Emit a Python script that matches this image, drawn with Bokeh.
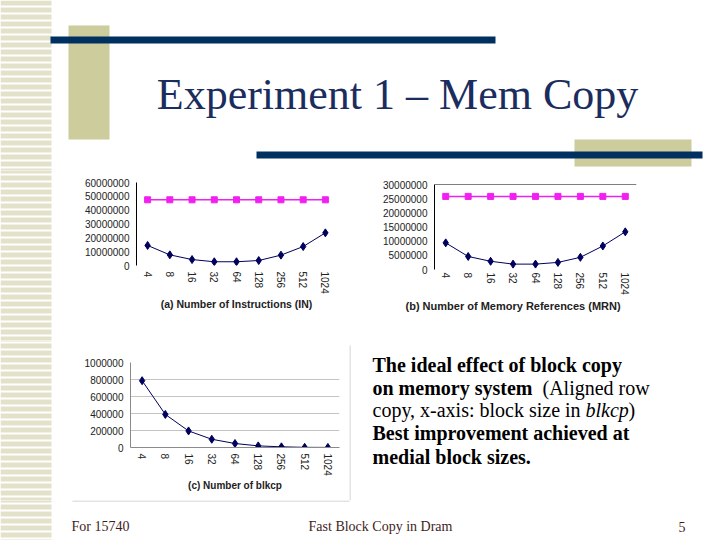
from bokeh.plotting import figure
from bokeh.layouts import column, row
from bokeh.models import Range1d, FactorRange, FixedTicker, BasicTickFormatter, Span, Title
from bokeh.embed import file_html
from bokeh.resources import INLINE
from bokeh.core.properties import value

# ---------------- data ----------------
block_sizes = ["4", "8", "16", "32", "64", "128", "256", "512", "1024"]

# (a) Number of Instructions (IN)
in_with_blkcp = [14500000, 7700000, 4300000, 2700000, 2700000, 3600000, 7500000, 13700000, 23600000]
in_without_blkcp = [47500000, 47500000, 47500000, 47500000, 47500000, 47500000, 47500000, 47500000, 47500000]
in_y_ticks = [0, 10000000, 20000000, 30000000, 40000000, 50000000, 60000000]

# (b) Number of Memory References (MRN)
mrn_with_blkcp = [9400000, 4600000, 2900000, 1900000, 1900000, 2500000, 4300000, 8300000, 13300000]
mrn_without_blkcp = [25800000, 25800000, 25800000, 25800000, 25800000, 25800000, 25800000, 25800000, 25800000]
mrn_y_ticks = [0, 5000000, 10000000, 15000000, 20000000, 25000000, 30000000]

# (c) Number of blkcp
blkcp_count = [786000, 389000, 195000, 97000, 47000, 19000, 8000, 2000, 1000]
blkcp_y_ticks = [0, 200000, 400000, 600000, 800000, 1000000]
blkcp_grid = [200000, 400000, 600000, 800000]

title_text = "Experiment 1 \u2013 Mem Copy"
label_a = "(a) Number of Instructions (IN)"
label_b = "(b) Number of Memory References (MRN)"
label_c = "(c) Number of blkcp"

# ---------------- styles ----------------
NAVY_BAR = "#00305f"
BEIGE = "#cccc9c"
STRIPE = "#e3e1ca"
TITLE_COL = "#1b2d5e"
FOOT_COL = "#3f1d1d"
PINK = "#f020f0"
NAVY = "#00005e"
SANS = "Liberation Sans"
SERIF = "Liberation Serif"


def deco(x0, x1, y0, y1):
    p = figure(width=x1 - x0, height=y1 - y0, x_range=Range1d(x0, x1), y_range=Range1d(y1, y0),
               x_axis_type=None, y_axis_type=None, toolbar_location=None, output_backend="svg",
               min_border=0, outline_line_color=None, frame_align=False,
               background_fill_color="white", border_fill_color="white")
    if x0 < 51:
        tops = list(range(0, 545, 7))
        p.quad(left=0, right=51, top=tops, bottom=[t + 5 for t in tops],
               fill_color=STRIPE, line_color=None)
    return p


def chart(w, h, l, r, t, b, ymax, yticks, xfs):
    p = figure(width=w, height=h, x_range=FactorRange(factors=block_sizes), y_range=Range1d(0, ymax),
               toolbar_location=None, output_backend="svg", frame_align=False,
               min_border_left=l, min_border_right=r, min_border_top=t, min_border_bottom=b,
               outline_line_color=None, background_fill_color="white", border_fill_color="white")
    p.xgrid.visible = False
    p.ygrid.visible = False
    p.xaxis.major_label_orientation = "vertical"
    p.xaxis.major_tick_line_color = None
    p.xaxis.minor_tick_line_color = None
    p.xaxis.major_tick_out = 0
    p.xaxis.major_tick_in = 0
    p.xaxis.major_label_text_font = SANS
    p.xaxis.major_label_text_font_size = xfs
    p.xaxis.major_label_text_color = "#222222"
    p.xaxis.major_label_standoff = 6
    p.xaxis.axis_label_standoff = 1
    p.xaxis.axis_label_text_font = SANS
    p.xaxis.axis_label_text_font_size = "10.5px"
    p.xaxis.axis_label_text_font_style = "bold"
    p.xaxis.axis_label_text_color = "#222222"
    p.yaxis.ticker = FixedTicker(ticks=yticks)
    p.yaxis.formatter = BasicTickFormatter(use_scientific=False)
    p.yaxis.major_tick_line_color = None
    p.yaxis.minor_tick_line_color = None
    p.yaxis.major_tick_out = 0
    p.yaxis.major_tick_in = 0
    p.yaxis.major_label_text_font = SANS
    p.yaxis.major_label_text_font_size = "10px"
    p.yaxis.major_label_text_color = "#222222"
    p.yaxis.major_label_standoff = 7
    return p


# ---------------- header ----------------
head = deco(0, 720, 0, 170)
head.quad(left=68, right=109, top=25, bottom=139, fill_color=BEIGE, line_color=None)
head.quad(left=574, right=691, top=139, bottom=166, fill_color=BEIGE, line_color=None)
head.quad(left=50, right=495, top=36, bottom=43, fill_color=NAVY_BAR, line_color=None)
head.quad(left=256, right=702, top=151, bottom=158, fill_color=NAVY_BAR, line_color=None)
head.text(x=[397], y=[94], text=[title_text], text_font=value(SERIF), text_font_size="44px",
          text_align="center", text_baseline="middle", text_color=TITLE_COL)

# ---------------- chart (a) ----------------
pa = chart(275, 170, 66, 9, 12, 75, 60000000, in_y_ticks, "10px")
pa.xaxis.axis_line_color = None
pa.yaxis.axis_line_color = "black"
pa.xaxis.axis_label = label_a
pa.line(block_sizes, in_without_blkcp, line_color=PINK, line_width=1.5)
pa.scatter(block_sizes, in_without_blkcp, marker="square", size=6, fill_color=PINK, line_color=PINK)
pa.line(block_sizes, in_with_blkcp, line_color=NAVY, line_width=1)
pa.scatter(block_sizes, in_with_blkcp, marker="diamond", size=8, fill_color=NAVY, line_color=NAVY)

# ---------------- chart (b) ----------------
pb = chart(375, 170, 89, 84, 14, 71, 30000000, mrn_y_ticks, "10px")
pb.xaxis.axis_line_color = None
pb.yaxis.axis_line_color = "black"
pb.xaxis.major_label_standoff = 3
pb.add_layout(Span(location=30000000, dimension="width", line_color="black", line_width=1))
pb.add_layout(Title(text=label_b, align="left", offset=-29, text_font=SANS, text_font_size="11px",
                    text_font_style="bold", text_color="#222222", standoff=0), "below")
pb.line(block_sizes, mrn_without_blkcp, line_color=PINK, line_width=1.5)
pb.scatter(block_sizes, mrn_without_blkcp, marker="square", size=6, fill_color=PINK, line_color=PINK)
pb.line(block_sizes, mrn_with_blkcp, line_color=NAVY, line_width=1)
pb.scatter(block_sizes, mrn_with_blkcp, marker="diamond", size=8, fill_color=NAVY, line_color=NAVY)

# ---------------- chart (c) ----------------
pc = chart(289, 160, 70, 10, 22, 53, 1000000, blkcp_y_ticks, "10px")
pc.xaxis.axis_line_color = "#8a8a8a"
pc.yaxis.axis_line_color = "#8a8a8a"
pc.ygrid.visible = True
pc.ygrid.ticker = FixedTicker(ticks=blkcp_grid)
pc.ygrid.grid_line_color = "#c4c4c4"
pc.xaxis.axis_label = label_c
pc.xaxis.axis_label_text_font_size = "10px"
pc.line(block_sizes, blkcp_count, line_color=NAVY, line_width=1)
pc.scatter(block_sizes, blkcp_count, marker="diamond", size=8, fill_color=NAVY, line_color=NAVY)

# ---------------- side tiles ----------------
left_b = deco(0, 70, 170, 340)
left_c = deco(0, 60, 340, 500)

txt = deco(349, 720, 340, 500)
txt.segment(x0=[349.5], y0=[345], x1=[349.5], y1=[500], line_color="#c8c8c8", line_width=1)
bold_lines = ["The ideal effect of block copy", "on memory system", "Best improvement achieved at",
              "medial block sizes."]
txt.text(x=[372, 372, 372, 372], y=[364, 387, 432, 456], text=bold_lines, text_font=value(SERIF),
         text_font_size="20px", text_font_style="bold", text_baseline="middle", text_color="black")
txt.text(x=[542, 372, 628], y=[387, 409, 409], text=["(Aligned row", "copy, x-axis: block size in", ")"],
         text_font=value(SERIF), text_font_size="20px", text_baseline="middle", text_color="black")
txt.text(x=[585], y=[409], text=["blkcp"], text_font=value(SERIF), text_font_size="20px",
         text_font_style="italic", text_baseline="middle", text_color="black")

# ---------------- footer ----------------
foot = deco(0, 720, 500, 540)
foot.segment(x0=[72], y0=[500.5], x1=[349], y1=[500.5], line_color="#c8c8c8", line_width=1)
foot.text(x=[71], y=[526], text=["For 15740"], text_font=value(SERIF), text_font_size="14px",
          text_baseline="middle", text_color=FOOT_COL)
foot.text(x=[380], y=[526], text=["Fast Block Copy in Dram"], text_font=value(SERIF), text_font_size="14px",
          text_align="center", text_baseline="middle", text_color=FOOT_COL)
foot.text(x=[678], y=[526], text=["5"], text_font=value(SERIF), text_font_size="14px",
          text_baseline="middle", text_color=FOOT_COL)

layout = column(head, row(left_b, pa, pb), row(left_c, pc, txt), foot)

open("out.html", "w").write(file_html(layout, INLINE))
